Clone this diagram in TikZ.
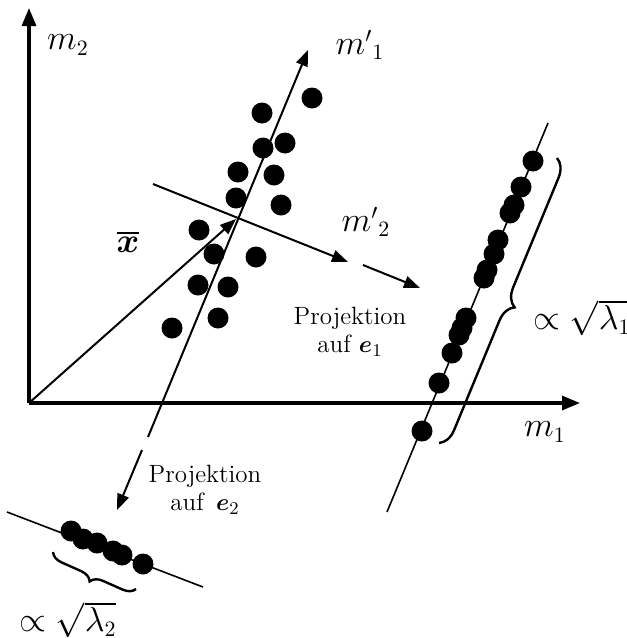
\documentclass[tikz,border=0pt]{standalone}
\usepackage{amsmath,amssymb,bm}
\usepackage{tikz}
\usetikzlibrary{arrows.meta,positioning,decorations.pathreplacing}
\tikzset{
  pt/.style={circle,fill=black,inner sep=0pt,minimum size=10.5pt},
  axis/.style={line width=1.6pt,-{Triangle[length=9pt,width=7pt]}},
  vec/.style={line width=1pt,-{Triangle[length=8pt,width=6pt]}},
  proj/.style={line width=0.8pt},
  spread/.style={line width=1.2pt,decorate,decoration={brace,amplitude=#1}},
  spread/.default=9pt,
  lbl/.style={font=\fontsize{16}{19}\selectfont},
  txt/.style={font=\fontsize{12.5}{14}\selectfont,align=center}
}
\begin{document}
\begin{tikzpicture}[x=0.5pt,y=-0.5pt]
  \useasboundingbox (0,0) rectangle (627,638);
  % axes
  \coordinate (O) at (29,403);
  \coordinate (m2tip) at (29,8);
  \coordinate (m1tip) at (580,403);
  \draw[axis] (O) -- (m2tip);
  \draw[axis] (O) -- (m1tip);
  \node[lbl] (m2) at (68,45) {$m_2$};
  \node[lbl] (m1) at (545,432) {$m_1$};
  % data points
  \foreach \x/\y [count=\i] in {312/98,262/113,285/143,263/148,238/172,274/175,
      236/198,281/205,199/230,214/254,256/257,198/285,228/287,218/318,172/328}
    \node[pt] (d\i) at (\x,\y) {};
  % principal axes
  \coordinate (c) at (236,219);
  \coordinate (a1s) at (148,437);
  \coordinate (a1e) at (308,50);
  \coordinate (a2s) at (153,184);
  \coordinate (a2e) at (348,262);
  \draw[vec] (a1s) -- (a1e);
  \draw[vec] (a2s) -- (a2e);
  \draw[vec] (O) -- (c);
  \node[lbl] (m1p) at (360,45) {${m'}_1$};
  \node[lbl] (m2p) at (366,222) {${m'}_2$};
  \node[lbl] (xbar) at (128,242) {$\overline{\bm{x}}$};
  % projection onto e1
  \coordinate (p1s) at (363,265);
  \coordinate (p1e) at (420,288);
  \draw[vec] (p1s) -- (p1e);
  \node[txt] (t1) at (350,332) {Projektion\\auf $\bm{e}_1$};
  \coordinate (l1s) at (548,123);
  \coordinate (l1e) at (387,512);
  \draw[proj] (l1s) -- (l1e);
  \foreach \x/\y [count=\i] in {533/161,521/187,514/205,510/213,498/240,494/254,
      487/270,484/278,466/318,462/328,459/335,452/353,439/383,422/431}
    \node[pt] (r\i) at (\x,\y) {};
  \coordinate (b1s) at (557,158);
  \coordinate (b1e) at (439,443);
  \draw[spread] (b1s) -- (b1e);
  \node[lbl] (ev1) at (582,318) {$\propto\sqrt{\lambda_1}$};
  % projection onto e2
  \coordinate (p2s) at (142,450);
  \coordinate (p2e) at (117,510);
  \draw[vec] (p2s) -- (p2e);
  \node[txt] (t2) at (205,490) {Projektion\\auf\, $\bm{e}_2$};
  \coordinate (l2s) at (7,512);
  \coordinate (l2e) at (203,587);
  \draw[proj] (l2s) -- (l2e);
  \foreach \x/\y [count=\i] in {71/531,83/539,97/543,113/551,122/555,143/564}
    \node[pt] (s\i) at (\x,\y) {};
  \coordinate (b2s) at (136,589);
  \coordinate (b2e) at (53,552);
  \draw[spread=6pt] (b2s) -- (b2e);
  \node[lbl] (ev2) at (68,620) {$\propto\sqrt{\lambda_2}$};
\end{tikzpicture}
\end{document}
